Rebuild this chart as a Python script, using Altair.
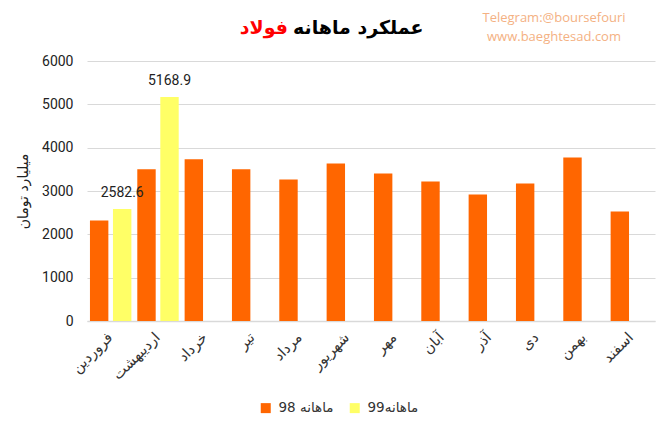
import altair as alt
import pandas as pd

months = ["فروردین", "اردیبهشت", "خرداد", "تیر", "مرداد", "شهریور",
          "مهر", "آبان", "آذر", "دی", "بهمن", "اسفند"]
values_98 = [2320, 3500, 3730, 3500, 3265, 3635, 3405, 3220, 2920, 3175, 3775, 2525]
values_99 = [2582.6, 5168.9]
series_names = ["ماهانه 98", "ماهانه99"]
series_colors = ["#FF6600", "#FFFF66"]
y_ticks = [0, 1000, 2000, 3000, 4000, 5000, 6000]

rows = []
for m, v in zip(months, values_98):
    rows.append({"month": m, "series": series_names[0], "value": v})
for m, v in zip(months, values_99):
    rows.append({"month": m, "series": series_names[1], "value": v})
df = pd.DataFrame(rows)
df99 = df[df["series"] == series_names[1]]

W, H = 568, 260
AR = "DejaVu Sans"
NUM = "Roboto"

x_enc = alt.X("month:N", sort=months,
              scale=alt.Scale(paddingInner=0.125, paddingOuter=0.0625),
              axis=alt.Axis(title=None, labelAngle=-45, labelAlign="right",
                            labelBaseline="middle", labelPadding=14,
                            labelFont=AR, labelFontSize=14.5, labelColor="#333333",
                            ticks=False, domainColor="#D9D9D9", domainWidth=1.5,
                            labelOverlap=False))
xo_enc = alt.XOffset("series:N", sort=series_names,
                     scale=alt.Scale(domain=series_names, paddingInner=0.2, paddingOuter=0))

bars = alt.Chart(df).mark_bar().encode(
    x=x_enc,
    xOffset=xo_enc,
    y=alt.Y("value:Q",
            scale=alt.Scale(domain=[0, 6000], nice=False),
            axis=alt.Axis(values=y_ticks, format="d", title="میلیارد تومان", titleFont=AR,
                          titleFontSize=14, titleFontWeight="normal", titleColor="#222222",
                          titleX=-57, titleY=H / 2, titleAngle=-90,
                          labelFont=NUM, labelFontSize=14, labelColor="#222222",
                          labelPadding=14, ticks=False, domain=False,
                          gridColor="#D9D9D9", gridWidth=1.2)),
    color=alt.Color("series:N", sort=series_names,
                    scale=alt.Scale(domain=series_names, range=series_colors),
                    legend=alt.Legend(title=None, orient="none", direction="horizontal",
                                      legendX=172, legendY=340, symbolType="square",
                                      symbolSize=100, symbolStrokeWidth=0,
                                      labelFont=AR, labelFontSize=13.5, labelColor="#333333",
                                      columnPadding=14, labelOffset=6)),
)

labels = alt.Chart(df99).mark_text(baseline="bottom", dy=-9, font=NUM, fontSize=14,
                                   color="#222222").encode(
    x=alt.X("month:N", sort=months),
    xOffset=alt.XOffset("series:N", sort=series_names),
    y="value:Q",
    text=alt.Text("value:Q", format=".1f"),
)

title_black = alt.Chart(pd.DataFrame({"t": ["عملکرد ماهانه"]})).mark_text(
    align="left", baseline="middle", font=AR, fontSize=19, fontWeight="bold", color="#000000"
).encode(x=alt.value(206), y=alt.value(-33), text="t:N")

title_red = alt.Chart(pd.DataFrame({"t": ["فولاد"]})).mark_text(
    align="right", baseline="middle", font=AR, fontSize=19, fontWeight="bold", color="#FF0000"
).encode(x=alt.value(201), y=alt.value(-33), text="t:N")

credit = alt.Chart(pd.DataFrame({"t": ["Telegram:@boursefouri", "www.baeghtesad.com"],
                                 "yy": [-43, -24]})).mark_text(
    align="center", baseline="middle", font="Open Sans", fontSize=13, color="#F4B183"
).encode(x=alt.value(467), y=alt.Y("yy:Q", scale=None), text="t:N")

chart = alt.layer(bars, labels, title_black, title_red, credit).properties(
    width=W, height=H,
    autosize=alt.AutoSizeParams(type="none"),
    padding={"left": 79, "top": 53, "right": 6, "bottom": 100},
).configure_view(stroke=None)

chart.save("out.html", embed_options={"renderer": "svg", "actions": False})
